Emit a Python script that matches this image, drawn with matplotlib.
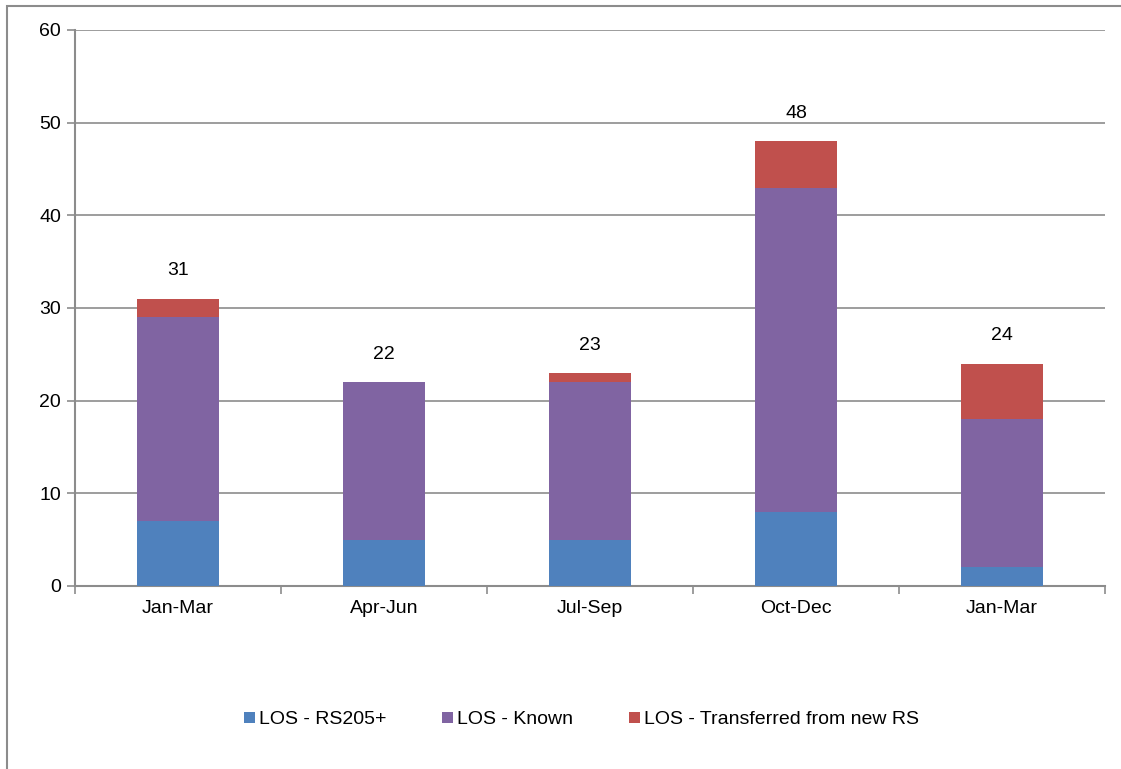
import matplotlib.pyplot as plt
from matplotlib.patches import Rectangle
import numpy as np

plt.rcParams['font.family'] = ['Liberation Sans', 'DejaVu Sans']

# data
quarters = ["Jan-Mar", "Apr-Jun", "Jul-Sep", "Oct-Dec", "Jan-Mar"]
rs205 = [7, 5, 5, 8, 2]
known = [22, 17, 17, 35, 16]
transferred = [2, 0, 1, 5, 6]

series_names = ["LOS - RS205+", "LOS - Known", "LOS - Transferred from new RS"]
colors = ["#4F81BD", "#8064A2", "#C0504D"]

fig = plt.figure(figsize=(11.21, 7.69), dpi=100)
ax = fig.add_axes([75 / 1121, 1 - 586 / 769, 1030 / 1121, 556 / 769])

# outer chart frame (only top/left visible in the picture)
fig.patches.append(Rectangle((7 / 1121, -0.1), 1.2, (769 - 4) / 769 + 0.1 - 0.002,
                             transform=fig.transFigure, fill=False,
                             edgecolor="#8c8c8c", lw=1.5, zorder=0))

x = np.arange(len(quarters))
w = 0.4
bottom = np.zeros(len(quarters))
for vals, name, c in zip([rs205, known, transferred], series_names, colors):
    vals = np.array(vals)
    ax.bar(x, vals, w, bottom=bottom, color=c, label=name, zorder=3)
    bottom += vals

for xi, tot in zip(x, bottom):
    ax.annotate(f"{int(tot)}", (xi, tot), xytext=(0, 20), textcoords="offset points",
                ha="center", va="center", fontsize=14)

ax.set_xlim(-0.5, len(quarters) - 0.5)
ax.set_ylim(0, 60)
ax.set_yticks(range(0, 61, 10))
ax.set_xticks(x)
ax.set_xticklabels(quarters)
ax.set_xticks(np.arange(-0.5, len(quarters)), minor=True)
ax.tick_params(axis="x", which="major", length=0, pad=10, labelsize=14)
ax.tick_params(axis="x", which="minor", length=6, color="#8c8c8c", width=1.2)
ax.tick_params(axis="y", length=6, color="#8c8c8c", width=1.2, labelsize=14, pad=4)

ax.yaxis.grid(True, color="#8c8c8c", lw=1.2, zorder=0)
ax.set_axisbelow(True)
for s in ["top", "right"]:
    ax.spines[s].set_visible(False)
for s in ["left", "bottom"]:
    ax.spines[s].set_color("#8c8c8c")
    ax.spines[s].set_linewidth(1.5)

fig.legend(loc="center", bbox_to_anchor=(581.5 / 1121, 1 - 720 / 769), ncol=3, frameon=False,
           fontsize=14, handlelength=0.55, handleheight=0.55, handletextpad=0.2,
           columnspacing=2.9)

fig.savefig("out.png", dpi=100)
